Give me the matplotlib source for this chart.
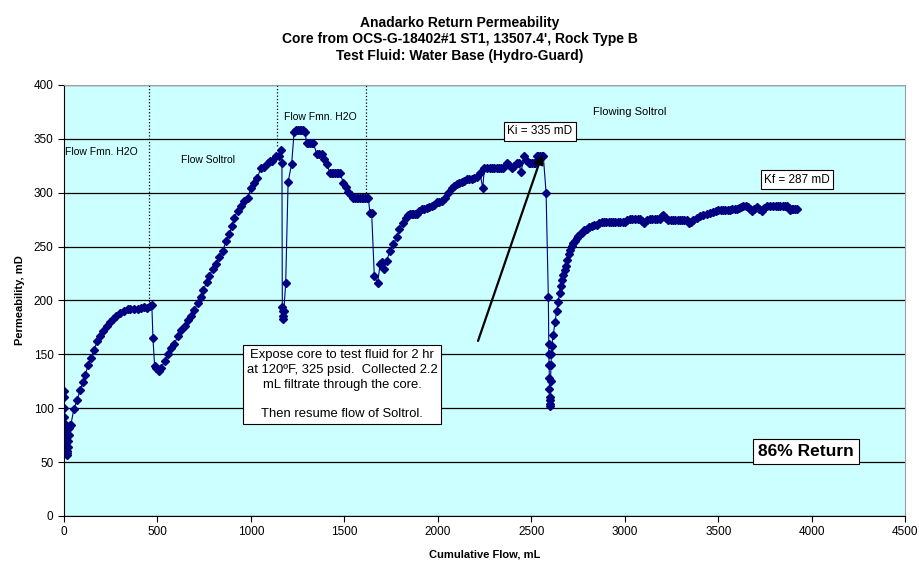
import matplotlib
matplotlib.use("Agg")
import matplotlib.pyplot as plt

plt.rcParams['font.family'] = ['Liberation Sans', 'DejaVu Sans']

# Cumulative flow (mL) and permeability (mD)
flow = [0, 0, 0, 1, 2, 3, 5, 6, 8, 10, 12, 14, 16, 18, 20, 22, 25, 28, 32, 36,
        53, 70, 88, 100, 115, 128, 145, 160, 178, 195, 210, 228, 245, 262, 280,
        300, 320, 340, 355, 375, 395, 410, 430, 445, 458, 470,
        476, 485, 494, 508, 520, 538, 556, 574, 591, 609, 627, 645, 662, 680,
        698, 716, 733, 746, 764, 778, 796, 813, 831, 849, 867, 884, 899, 911,
        929, 947, 964, 982, 1000, 1018, 1035, 1053, 1071, 1089, 1102, 1115,
        1133, 1151, 1163, 1166,
        1168, 1169, 1171, 1173, 1176, 1186, 1199, 1218, 1231, 1240, 1250, 1260,
        1270, 1280, 1290, 1298, 1307, 1316, 1325, 1334, 1352, 1365, 1378, 1392,
        1405, 1423, 1432, 1441, 1450, 1459, 1468, 1477, 1495, 1508, 1521, 1535,
        1548, 1557, 1566, 1575, 1584, 1593, 1602, 1611, 1620, 1628, 1637, 1646,
        1660, 1678, 1691, 1700, 1712, 1726, 1744, 1762, 1780, 1794, 1812, 1830,
        1840, 1851, 1860, 1869, 1878, 1887, 1900, 1914, 1927, 1940, 1954, 1967,
        1980, 1994, 2007, 2020, 2038, 2056, 2074, 2088, 2101, 2115, 2128, 2141,
        2154, 2168, 2181, 2195, 2208, 2226, 2240, 2249, 2264, 2279, 2291, 2303,
        2315, 2327, 2339, 2351, 2369, 2383, 2396, 2409, 2422, 2433, 2444, 2463,
        2474, 2485, 2494, 2503, 2512, 2520, 2529, 2538, 2546, 2555, 2564, 2579,
        2591, 2593, 2594, 2595, 2596, 2597, 2598, 2599, 2600, 2601, 2603, 2605,
        2607, 2609, 2617, 2626, 2635, 2644, 2651, 2657, 2664, 2671, 2678, 2685,
        2693, 2700, 2708, 2715, 2724, 2733, 2742, 2751, 2760, 2769, 2782, 2796,
        2810, 2823, 2836, 2849, 2862, 2876, 2888, 2900, 2913, 2925, 2938, 2950,
        2963, 2975, 2988, 3001, 3014, 3028, 3041, 3055, 3068, 3081, 3092, 3104,
        3120, 3135, 3148, 3160, 3174, 3188, 3197, 3206, 3220, 3233, 3246, 3259,
        3271, 3283, 3295, 3307, 3319, 3331, 3345, 3356, 3366, 3384, 3402, 3420,
        3438, 3456, 3474, 3487, 3500, 3512, 3525, 3538, 3550, 3562, 3575, 3587,
        3598, 3610, 3622, 3634, 3648, 3661, 3670, 3679, 3692, 3706, 3720, 3733,
        3746, 3760, 3778, 3795, 3808, 3820, 3832, 3845, 3856, 3867, 3876, 3884,
        3893, 3902, 3911, 3920]
perm = [116, 110, 100, 92, 86, 80, 74, 70, 66, 62, 59, 57, 58, 60, 64, 70, 75, 82, 84, 84,
        99, 108, 117, 124, 131, 140, 147, 154, 162, 167, 172, 176, 180, 183, 186,
        188, 190, 192, 192, 192, 192, 193, 194, 193, 195, 196,
        165, 139, 137, 135, 137, 144, 150, 156, 160, 167, 173, 176, 182, 186,
        191, 198, 203, 210, 217, 223, 229, 234, 240, 246, 255, 262, 269, 277,
        283, 288, 292, 295, 304, 309, 314, 323, 324, 328, 329, 329,
        334, 334, 340, 328,
        194, 190, 186, 183, 190, 216, 310, 327, 356, 358, 358, 358,
        358, 358, 356, 346, 346, 346, 346, 346, 336, 336, 336, 331,
        327, 318, 318, 318, 318, 318, 318, 318, 309, 305, 301, 298,
        295, 295, 295, 295, 295, 295, 295, 295, 295, 295, 281, 281,
        223, 216, 234, 236, 229, 237, 246, 252, 259, 266, 272, 277,
        279, 280, 280, 280, 280, 280, 283, 285, 285, 286, 287, 288,
        289, 291, 291, 292, 295, 300, 304, 306, 308, 309, 310, 311,
        313, 313, 313, 314, 315, 318, 304, 323, 323, 323, 323, 323,
        323, 323, 323, 323, 328, 326, 323, 325, 328, 328, 319, 334,
        330, 328, 328, 328, 328, 328, 334, 334, 334, 334, 334, 300,
        203, 160, 150, 140, 128, 118, 110, 104, 102, 108, 125, 140,
        150, 158, 168, 180, 190, 199, 207, 213, 219, 224, 228, 232,
        238, 243, 247, 251, 253, 255, 258, 260, 262, 263, 265, 266,
        268, 269, 270, 270, 272, 273, 273, 273, 273, 273, 273, 273,
        273, 273, 273, 273, 275, 276, 276, 276, 276, 276, 274, 272,
        275, 276, 276, 276, 276, 276, 278, 279, 277, 275, 275, 275,
        275, 275, 275, 275, 275, 275, 272, 273, 275, 277, 278, 279,
        280, 281, 282, 283, 284, 284, 284, 284, 284, 284, 285, 285,
        285, 286, 287, 288, 288, 287, 285, 283, 285, 287, 285, 283,
        286, 288, 288, 288, 288, 288, 288, 288, 288, 288, 286, 284,
        285, 285, 285, 285]

stage_lines = [455, 1141, 1616]
stage_tops = [196, 343, 297]

fig = plt.figure(figsize=(9.19, 5.62), dpi=100)
ax = fig.add_axes([0.0696, 0.0819, 0.9154, 0.7669])
ax.set_facecolor('#CCFFFF')

ax.set_xlim(0, 4500)
ax.set_ylim(0, 400)
ax.set_xticks(range(0, 4501, 500))
ax.set_yticks(range(0, 401, 50))
ax.yaxis.grid(True, color='black', linewidth=0.9)
ax.set_axisbelow(True)
ax.tick_params(direction='out', length=4, labelsize=8.5, colors='black')
for side in ['top', 'right']:
    ax.spines[side].set_color('#A0A0A0')
for side in ['left', 'bottom']:
    ax.spines[side].set_color('black')

# Stage change markers
for xl, yb in zip(stage_lines, stage_tops):
    ax.plot([xl, xl], [yb, 400], color='black', linestyle=':', linewidth=0.9)

ax.plot(flow, perm, color='#000080', linewidth=0.8, marker='D',
        markersize=4.4, markerfacecolor='#000080', markeredgecolor='#000080')

ax.set_xlabel('Cumulative Flow, mL', fontsize=8, fontweight='bold', labelpad=8)
ax.set_ylabel('Permeability, mD', fontsize=8, fontweight='bold', labelpad=6)

fig.text(0.5, 0.972, 'Anadarko Return Permeability\nCore from OCS-G-18402#1 ST1, 13507.4\', Rock Type B\nTest Fluid: Water Base (Hydro-Guard)',
         ha='center', va='top', fontsize=10, fontweight='bold', linespacing=1.25)

ax.text(5, 338, 'Flow Fmn. H2O', fontsize=7.5, ha='left', va='center')
ax.text(770, 330, 'Flow Soltrol', fontsize=7.5, ha='center', va='center')
ax.text(1175, 370, 'Flow Fmn. H2O', fontsize=7.5, ha='left', va='center')
ax.text(3028, 375, 'Flowing Soltrol', fontsize=8, ha='center', va='center')

box = dict(boxstyle='square,pad=0.3', facecolor='white', edgecolor='black', linewidth=0.8)
ax.text(2546, 357, 'Ki = 335 mD', fontsize=8.5, ha='center', va='center', bbox=box)
ax.text(3921, 312, 'Kf = 287 mD', fontsize=8.5, ha='center', va='center', bbox=box)
ax.text(3970, 60, '86% Return', fontsize=12.5, fontweight='bold', ha='center', va='center',
        bbox=dict(boxstyle='square,pad=0.3', facecolor='white', edgecolor='black', linewidth=0.8))

ax.annotate('', xy=(2563, 338), xytext=(2210, 160),
            arrowprops=dict(arrowstyle='-|>', color='black', lw=1.6, mutation_scale=14))
ax.text(1487, 122, 'Expose core to test fluid for 2 hr\nat 120\u00baF, 325 psid.  Collected 2.2\nmL filtrate through the core.\n\nThen resume flow of Soltrol.',
        fontsize=9.4, ha='center', va='center', linespacing=1.3,
        bbox=dict(boxstyle='square,pad=0.3', facecolor='white', edgecolor='black', linewidth=0.8))

fig.savefig('out.png', dpi=100)
